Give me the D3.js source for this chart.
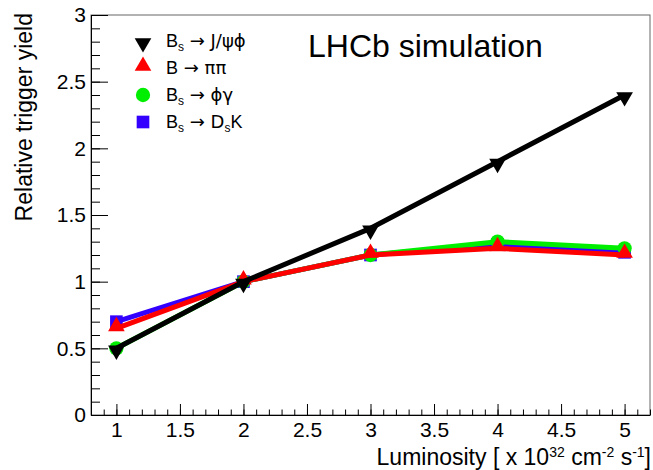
<!DOCTYPE html>
<html>
<head>
<meta charset="utf-8">
<script src="https://cdn.jsdelivr.net/npm/d3@7"></script>
<style>
  body { margin: 0; background: #fff; }
  svg { font-family: "Liberation Sans", Arial, Helvetica, sans-serif; }
  .sym { font-family: "DejaVu Sans", sans-serif; }
</style>
</head>
<body>
<div id="chart"></div>
<script>
// Data
const luminosity = [1, 2, 3, 4, 5];
const jpsiPhi = [0.5, 1.0, 1.4, 1.9, 2.4];
const piPi = [0.65, 1.0, 1.2, 1.25, 1.2];
const phiGamma = [0.5, 1.0, 1.2, 1.3, 1.25];
const dsK = [0.7, 1.0, 1.2, 1.28, 1.22];

const xTicks = [1, 1.5, 2, 2.5, 3, 3.5, 4, 4.5, 5];
const yTicks = [0, 0.5, 1, 1.5, 2, 2.5, 3];
const xMinor = d3.range(8, 53).map(d => d / 10);
const yMinor = d3.range(0, 31).map(d => d / 10);

// legend rows: [before sub, subscript, after sub, ...]
const legendLabels = [
    ["B", "s", " \u2192 J/\u03C8\u03D5"],
    ["B", "", " \u2192 \u03C0\u03C0"],
    ["B", "s", " \u2192 \u03D5\u03B3"],
    ["B", "s", " \u2192 D", "s", "K"]
];

const series = [
    {name: "jpsiPhi", values: jpsiPhi, color: "#000000", marker: "down"},
    {name: "piPi", values: piPi, color: "#ff0000", marker: "up"},
    {name: "phiGamma", values: phiGamma, color: "#00ee00", marker: "circle"},
    {name: "dsK", values: dsK, color: "#3300ff", marker: "square"}
];

const W = 653, H = 470;
const frame = {left: 91, right: 650, top: 15, bottom: 415};

const svg = d3.select("#chart").append("svg")
    .attr("width", W)
    .attr("height", H);

const x = d3.scaleLinear().domain([0.8, 5.2]).range([frame.left, frame.right]);
const y = d3.scaleLinear().domain([0, 3]).range([frame.bottom, frame.top]);

// frame
svg.append("rect")
    .attr("x", frame.left).attr("y", frame.top)
    .attr("width", frame.right - frame.left)
    .attr("height", frame.bottom - frame.top)
    .attr("fill", "none")
    .attr("stroke", "#666")
    .attr("stroke-width", 1);

// minor ticks
svg.append("g")
    .attr("transform", `translate(0,${frame.bottom})`)
    .call(d3.axisBottom(x).tickValues(xMinor).tickSize(-5.5).tickSizeOuter(0).tickFormat(""))
    .call(g => g.select(".domain").remove());

svg.append("g")
    .attr("transform", `translate(${frame.left},0)`)
    .call(d3.axisLeft(y).tickValues(yMinor).tickSize(-9).tickSizeOuter(0).tickFormat(""))
    .call(g => g.select(".domain").remove());

// major axes
svg.append("g")
    .attr("transform", `translate(0,${frame.bottom})`)
    .call(d3.axisBottom(x).tickValues(xTicks).tickSize(-11).tickSizeOuter(0).tickPadding(7).tickFormat(d3.format("")));

svg.append("g")
    .attr("transform", `translate(${frame.left},0)`)
    .call(d3.axisLeft(y).tickValues(yTicks).tickSize(-17).tickSizeOuter(0).tickPadding(5).tickFormat(d3.format("")));

svg.selectAll(".tick text")
    .style("font-size", "21px")
    .style("font-family", "'Liberation Sans', Arial, sans-serif")
    .attr("fill", "#000");
svg.selectAll(".tick line").attr("stroke", "#000");
svg.selectAll(".domain").attr("stroke", "#000");

// axis titles
svg.append("text")
    .attr("transform", `translate(32,13) rotate(-90)`)
    .attr("text-anchor", "end")
    .style("font-size", "23px")
    .text("Relative trigger yield");

const xt = svg.append("text")
    .attr("x", 651)
    .attr("y", 465)
    .attr("text-anchor", "end")
    .style("font-size", "23px");
xt.append("tspan").text("Luminosity [ x 10");
xt.append("tspan").attr("dy", -8).style("font-size", "14px").text("32");
xt.append("tspan").attr("dy", 8).text(" cm");
xt.append("tspan").attr("dy", -8).style("font-size", "14px").text("-2");
xt.append("tspan").attr("dy", 8).text(" s");
xt.append("tspan").attr("dy", -8).style("font-size", "14px").text("-1");
xt.append("tspan").attr("dy", 8).text("]");

// lines and markers
const line = d3.line()
    .x((d, i) => x(luminosity[i]))
    .y(d => y(d));

const symbolFor = {
    down: d3.symbol().type(d3.symbolTriangle).size(120),
    up: d3.symbol().type(d3.symbolTriangle).size(120),
    circle: d3.symbol().type(d3.symbolCircle).size(160),
    square: d3.symbol().type(d3.symbolSquare).size(160)
};

function drawMarker(g, s, cx, cy) {
    g.append("path")
        .attr("d", symbolFor[s.marker]())
        .attr("transform", `translate(${cx},${cy})` + (s.marker === "down" ? " rotate(180)" : "") + (s.marker === "up" || s.marker === "down" ? " translate(0,-2)" : ""))
        .attr("fill", s.color);
}

// draw order as in the picture: blue, green, red, black on top
const drawOrder = [3, 2, 1, 0];
drawOrder.forEach(k => {
    const s = series[k];
    const g = svg.append("g");
    g.append("path")
        .datum(s.values)
        .attr("d", line)
        .attr("fill", "none")
        .attr("stroke", s.color)
        .attr("stroke-width", 5)
        .attr("stroke-linejoin", "round");
    s.values.forEach((v, i) => drawMarker(g, s, x(luminosity[i]), y(v)));
});

// legend
const legendY = [41, 68, 95, 122];
const leg = svg.append("g");
series.forEach((s, i) => {
    drawMarker(leg, s, 143, legendY[i]);
    const t = leg.append("text")
        .attr("x", 166)
        .attr("y", legendY[i] + 6)
        .style("font-size", "18px");
    const parts = legendLabels[i];
    parts.forEach((p, j) => {
        if (p === "") return;
        const isSub = j % 2 === 1;
        const ts = t.append("tspan").text(p);
        if (!isSub && /[\u2192\u03B3\u03C8\u03C0\u03D5]/.test(p)) ts.attr("class", "sym");
        if (isSub) ts.attr("dy", 4).style("font-size", "12px");
        else if (j > 0 && parts[j - 1] !== "") ts.attr("dy", -4);
    });
});

// title
svg.append("text")
    .attr("x", 308)
    .attr("y", 57)
    .style("font-size", "32px")
    .text("LHCb simulation");
</script>
</body>
</html>
